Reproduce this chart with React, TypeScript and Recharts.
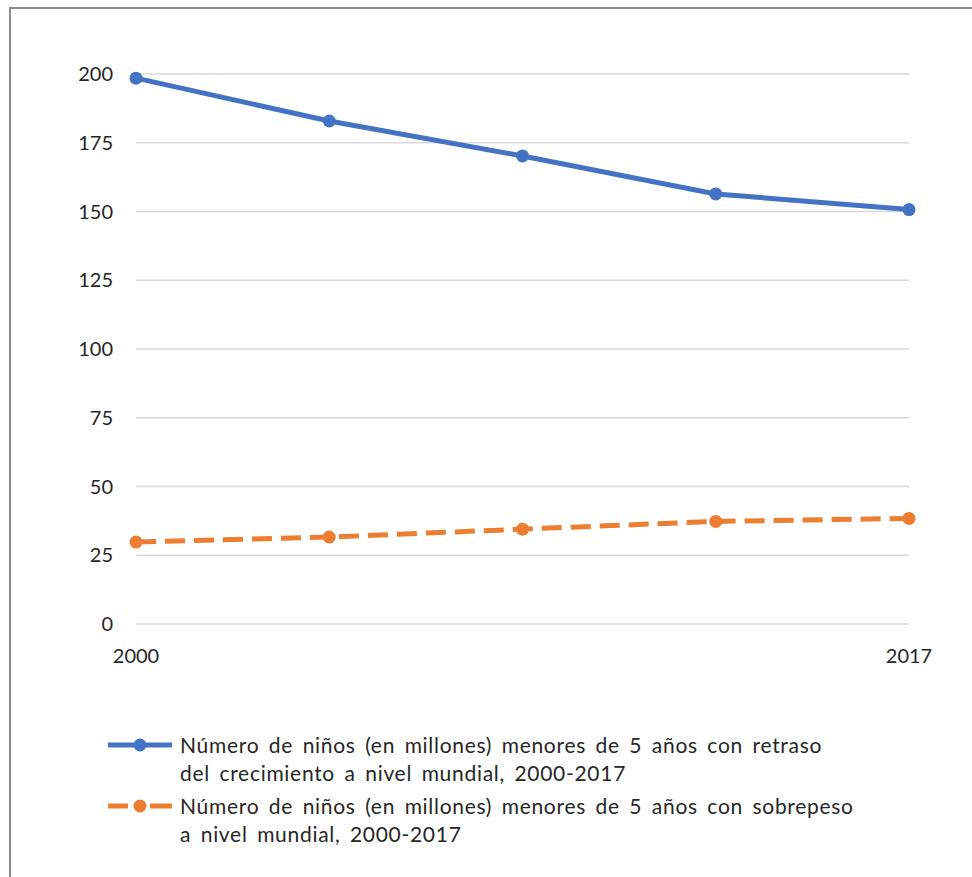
import React from 'react';
import {
  LineChart,
  Line,
  XAxis,
  YAxis,
  CartesianGrid,
  Legend
} from 'recharts';

const years = ['2000', '', '', '', '2017'];
const stunting = [198.5, 182.9, 170.2, 156.4, 150.7];
const overweight = [29.8, 31.6, 34.5, 37.3, 38.4];
const yTicks = [0, 25, 50, 75, 100, 125, 150, 175, 200];

const seriesNames = [
  ['Número de niños (en millones) menores de 5 años con retraso', 'del crecimiento a nivel mundial, 2000-2017'],
  ['Número de niños (en millones) menores de 5 años con sobrepeso', 'a nivel mundial, 2000-2017']
];

const BLUE = '#4472C4';
const ORANGE = '#ED7D31';
const FONT = 'Lato, "Noto Sans", sans-serif';

const chartData = years.map((year, i) => ({
  year,
  stunting: stunting[i],
  overweight: overweight[i]
}));

// legend drawn as two wrapped entries, icon left, text right
const LegendBox = () => (
  <div style={{ height: 190, paddingTop: 77, paddingLeft: 108, boxSizing: 'border-box', fontFamily: FONT, fontSize: 21, color: '#262626' }}>
    {seriesNames.map((lines, i) => (
      <div key={i} style={{ display: 'flex', alignItems: 'flex-start', marginBottom: 5 }}>
        <svg width={72} height={28} style={{ flexShrink: 0 }}>
          {i === 0 ? (
            <line x1={0} y1={14} x2={64} y2={14} stroke={BLUE} strokeWidth={5} />
          ) : (
            <>
              <line x1={0} y1={14} x2={20} y2={14} stroke={ORANGE} strokeWidth={5} />
              <line x1={42} y1={14} x2={64} y2={14} stroke={ORANGE} strokeWidth={5} />
            </>
          )}
          <circle cx={32} cy={14} r={6.5} fill={i === 0 ? BLUE : ORANGE} />
        </svg>
        <div style={{ lineHeight: '28px', wordSpacing: 3.5, letterSpacing: 0.7 }}>
          {lines.map((l, j) => (
            <div key={j} style={{ whiteSpace: 'nowrap' }}>{l}</div>
          ))}
        </div>
      </div>
    ))}
  </div>
);

const App: React.FC = () => {
  return (
    <div style={{ position: 'relative', width: 972, height: 877, background: '#fff' }}>
      <style>{'body{margin:0}'}</style>
      <div
        style={{
          position: 'absolute',
          left: 9,
          top: 7,
          right: 0,
          bottom: 0,
          borderTop: '2px solid #8a8a8a',
          borderLeft: '2px solid #8a8a8a'
        }}
      />
      <div style={{ position: 'absolute', left: 0, top: 0 }}>
        <LineChart
          width={972}
          height={877}
          data={chartData}
          margin={{ top: 74, right: 63, bottom: 33, left: 0 }}
        >
          <CartesianGrid vertical={false} stroke="#d9d9d9" strokeWidth={1.5} />
          <XAxis
            dataKey="year"
            axisLine={false}
            tickLine={false}
            tickSize={0}
            tickMargin={25}
            height={30}
            interval={0}
            tick={{ fill: '#262626', fontSize: 20, fontFamily: FONT }}
          />
          <YAxis
            domain={[0, 200]}
            ticks={yTicks}
            axisLine={false}
            tickLine={false}
            tickSize={0}
            tickMargin={23}
            width={136}
            tick={{ fill: '#262626', fontSize: 20, fontFamily: FONT }}
          />
          <Line
            type="linear"
            dataKey="stunting"
            stroke={BLUE}
            strokeWidth={5}
            dot={{ r: 6.5, fill: BLUE, stroke: BLUE, strokeWidth: 0 }}
            isAnimationActive={false}
          />
          <Line
            type="linear"
            dataKey="overweight"
            stroke={ORANGE}
            strokeWidth={5}
            strokeDasharray="20 9"
            dot={{ r: 6.5, fill: ORANGE, stroke: ORANGE, strokeWidth: 0, strokeDasharray: '' }}
            isAnimationActive={false}
          />
          <Legend verticalAlign="bottom" align="left" content={<LegendBox />} />
        </LineChart>
      </div>
    </div>
  );
};

export default App;
